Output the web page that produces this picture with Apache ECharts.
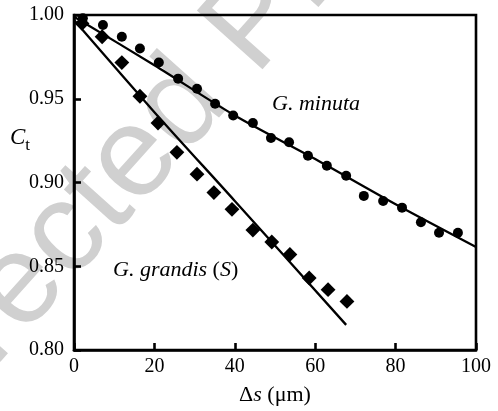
<!DOCTYPE html>
<html>
<head>
<meta charset="utf-8">
<script src="https://cdn.jsdelivr.net/npm/echarts@6/dist/echarts.min.js"></script>
<style>
html,body{margin:0;padding:0;background:#fff;}
#chart{width:498px;height:411px;}
</style>
</head>
<body>
<div id="chart"></div>
<script>
// G. minuta (circles)
const minutaX = [2.2, 7.2, 11.9, 16.4, 21.1, 25.9, 30.6, 35.1, 39.6, 44.5, 49.0, 53.5, 58.2, 62.9, 67.7, 72.1, 76.9, 81.6, 86.3, 90.8, 95.5];
const minutaC = [0.998, 0.994, 0.987, 0.980, 0.9716, 0.962, 0.956, 0.947, 0.940, 0.9355, 0.9266, 0.924, 0.916, 0.910, 0.904, 0.892, 0.889, 0.885, 0.8763, 0.870, 0.870];
// G. grandis (S) (diamonds)
const grandisX = [2.0, 7.0, 11.9, 16.4, 20.9, 25.6, 30.6, 34.8, 39.3, 44.5, 49.2, 53.7, 58.5, 63.2, 67.9];
const grandisC = [0.995, 0.987, 0.9716, 0.9515, 0.9355, 0.918, 0.905, 0.894, 0.884, 0.8716, 0.8645, 0.857, 0.843, 0.836, 0.829];
// fitted curves
const minutaFitX = [0, 20, 40, 60, 80, 100];
const minutaFitC = [0.999, 0.970, 0.940, 0.914, 0.887, 0.8615];
const grandisFitX = [0, 20, 40, 67.7];
const grandisFitC = [0.997, 0.942, 0.889, 0.815];
// axis ticks
const xTicks = [0, 20, 40, 60, 80, 100];
const yTicks = [0.80, 0.85, 0.90, 0.95, 1.00];

const zip = (a, b) => a.map((v, i) => [v, b[i]]);
const serif = '"Liberation Serif", "DejaVu Serif", serif';

const chart = echarts.init(document.getElementById('chart'), null, {renderer: 'canvas'});
chart.setOption({
  animation: false,
  backgroundColor: '#ffffff',
  grid: {left: 74, right: 22, top: 15, bottom: 58, show: true, borderColor: '#000', borderWidth: 2.6, backgroundColor: 'transparent', z: 1},
  xAxis: {
    type: 'value', min: xTicks[0], max: xTicks[xTicks.length - 1], interval: 20,
    axisLine: {show: true, onZero: false, lineStyle: {color: '#000', width: 2.6}},
    axisTick: {show: true, inside: true, length: 7, lineStyle: {color: '#000', width: 2.6}},
    splitLine: {show: false},
    axisLabel: {color: '#000', fontFamily: serif, fontSize: 20, margin: 7},
    name: '{d|Δ}{s|s}{d| (μm)}', nameLocation: 'middle', nameGap: 34,
    nameTextStyle: {rich: {
      d: {fontFamily: serif, fontSize: 22, color: '#000'},
      s: {fontFamily: serif, fontSize: 22, fontStyle: 'italic', color: '#000'}
    }}
  },
  yAxis: {
    type: 'value', min: yTicks[0], max: yTicks[yTicks.length - 1], interval: 0.05,
    axisLine: {show: true, onZero: false, lineStyle: {color: '#000', width: 2.6}},
    axisTick: {show: true, inside: true, length: 7, lineStyle: {color: '#000', width: 2.6}},
    splitLine: {show: false},
    axisLabel: {color: '#000', fontFamily: serif, fontSize: 20, margin: 10, formatter: v => v.toFixed(2)}
  },
  graphic: [
    {type: 'text', z: -10, zlevel: 0, x: 132, y: 162, rotation: 0.84,
      style: {text: 'Corrected Proof', fill: '#d0d0d0', font: '128px "Liberation Sans", Arial, sans-serif', align: 'center', verticalAlign: 'middle'}},
    {type: 'text', z: 100, left: 10, top: 126,
      style: {text: '{c|C}{t|t}', rich: {
        c: {fontFamily: serif, fontSize: 23, fontStyle: 'italic', fill: '#000', verticalAlign: 'bottom'},
        t: {fontFamily: serif, fontSize: 17, fill: '#000', verticalAlign: 'bottom', padding: [0, 0, -5, 0]}
      }}},
    {type: 'text', z: 100, left: 272, top: 93,
      style: {text: 'G. minuta', font: 'italic 22px "Liberation Serif", serif', fill: '#000'}},
    {type: 'text', z: 100, left: 113, top: 259,
      style: {text: '{i|G. grandis }{n|(}{i|S}{n|)}', rich: {
        i: {fontFamily: serif, fontSize: 22, fontStyle: 'italic', fill: '#000'},
        n: {fontFamily: serif, fontSize: 22, fill: '#000'}
      }}}
  ],
  series: [
    {type: 'line', data: zip(minutaFitX, minutaFitC), smooth: 0.3, showSymbol: false, symbol: 'none',
      lineStyle: {color: '#000', width: 2.3}, z: 3, silent: true},
    {type: 'line', data: zip(grandisFitX, grandisFitC), smooth: 0.3, showSymbol: false, symbol: 'none',
      lineStyle: {color: '#000', width: 2.3}, z: 3, silent: true},
    {type: 'scatter', data: zip(minutaX, minutaC), symbol: 'circle', symbolSize: 10,
      itemStyle: {color: '#000', opacity: 1}, z: 4},
    {type: 'scatter', data: zip(grandisX, grandisC), symbol: 'rect', symbolSize: 10.5, symbolRotate: 45,
      itemStyle: {color: '#000', opacity: 1}, z: 4}
  ]
});
</script>
</body>
</html>
